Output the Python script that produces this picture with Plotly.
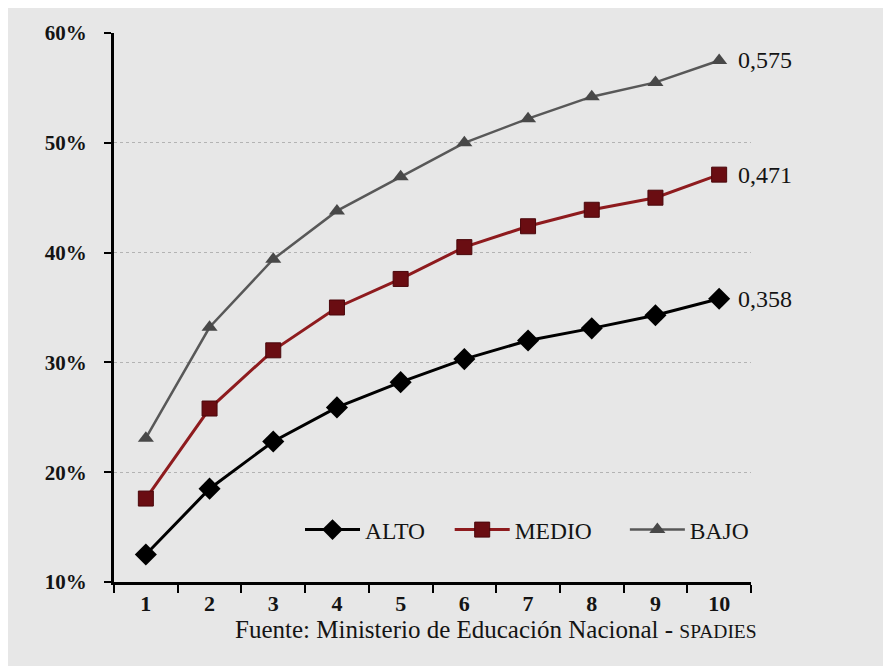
import plotly.graph_objects as go

categories = ["1", "2", "3", "4", "5", "6", "7", "8", "9", "10"]
alto = [12.5, 18.5, 22.8, 25.9, 28.2, 30.3, 32.0, 33.1, 34.3, 35.8]
medio = [17.6, 25.8, 31.1, 35.0, 37.6, 40.5, 42.4, 43.9, 45.0, 47.1]
bajo = [23.1, 33.2, 39.4, 43.8, 46.9, 50.0, 52.2, 54.2, 55.5, 57.5]
end_labels = ["0,358", "0,471", "0,575"]
y_ticks = [10, 20, 30, 40, 50, 60]
y_tick_labels = ["10%", "20%", "30%", "40%", "50%", "60%"]
source_text = "Fuente: Ministerio de Educación Nacional - "
source_caps = "SPADIES"

FONT = "Liberation Serif"
BG = "#e7e7e7"
INK = "#141414"

fig = go.Figure()
fig.add_trace(go.Scatter(
    x=categories, y=alto, name="ALTO", mode="lines+markers", legend="legend",
    line=dict(color="#000000", width=3),
    marker=dict(symbol="diamond", size=17, color="#000000"),
))
fig.add_trace(go.Scatter(
    x=categories, y=medio, name="MEDIO", mode="lines+markers", legend="legend2",
    line=dict(color="#8e1b1e", width=3),
    marker=dict(symbol="square", size=15, color="#6a0d12",
                line=dict(color="#4a070b", width=1)),
))
fig.add_trace(go.Scatter(
    x=categories, y=bajo, name="BAJO", mode="lines+markers", legend="legend3",
    line=dict(color="#585858", width=2.5),
    marker=dict(symbol="triangle-up", size=14, color="#484848"),
))

last_idx = len(categories) - 1
for series, lab in zip([alto, medio, bajo], end_labels):
    fig.add_annotation(
        x=last_idx, y=series[-1], xref="x", yref="y",
        text=lab, showarrow=False, xanchor="left", yanchor="middle",
        xshift=17, font=dict(family=FONT, size=24, color=INK),
    )

fig.add_annotation(
    x=1.012, y=-0.086, xref="paper", yref="paper",
    text=source_text + '<span style="font-size:19.5px">' + source_caps + "</span>",
    showarrow=False, xanchor="right", yanchor="middle",
    font=dict(family=FONT, size=25, color=INK),
)

leg_common = dict(
    orientation="h", y=0.095, xanchor="left", yanchor="middle",
    bgcolor="rgba(0,0,0,0)", font=dict(family=FONT, size=23.5, color=INK),
    itemwidth=55,
)

fig.update_layout(
    width=891, height=666,
    margin=dict(l=106, r=148, t=25, b=92),
    paper_bgcolor=BG, plot_bgcolor=BG,
    font=dict(family=FONT, size=20, color=INK),
    showlegend=True,
    legend=dict(x=0.292, **leg_common),
    legend2=dict(x=0.527, **leg_common),
    legend3=dict(x=0.802, **leg_common),
    xaxis=dict(
        type="category", range=[-0.5, 9.5], tickson="boundaries",
        showline=True, linecolor="#000000", linewidth=3,
        ticks="outside", ticklen=8, tickwidth=2, tickcolor="#000000",
        showgrid=False, zeroline=False,
        tickfont=dict(family=FONT, size=22, color=INK, weight="bold"),
    ),
    yaxis=dict(
        range=[10, 60], tickmode="array", tickvals=y_ticks, ticktext=y_tick_labels,
        showline=True, linecolor="#000000", linewidth=3,
        ticks="outside", ticklen=7, tickwidth=2, tickcolor="#000000",
        ticklabelstandoff=13,
        showgrid=True, gridcolor="#b3b3b3", gridwidth=1, griddash="dot",
        zeroline=False,
        tickfont=dict(family=FONT, size=21, color=INK, weight="bold"),
    ),
)

fig.write_html("out.html")
